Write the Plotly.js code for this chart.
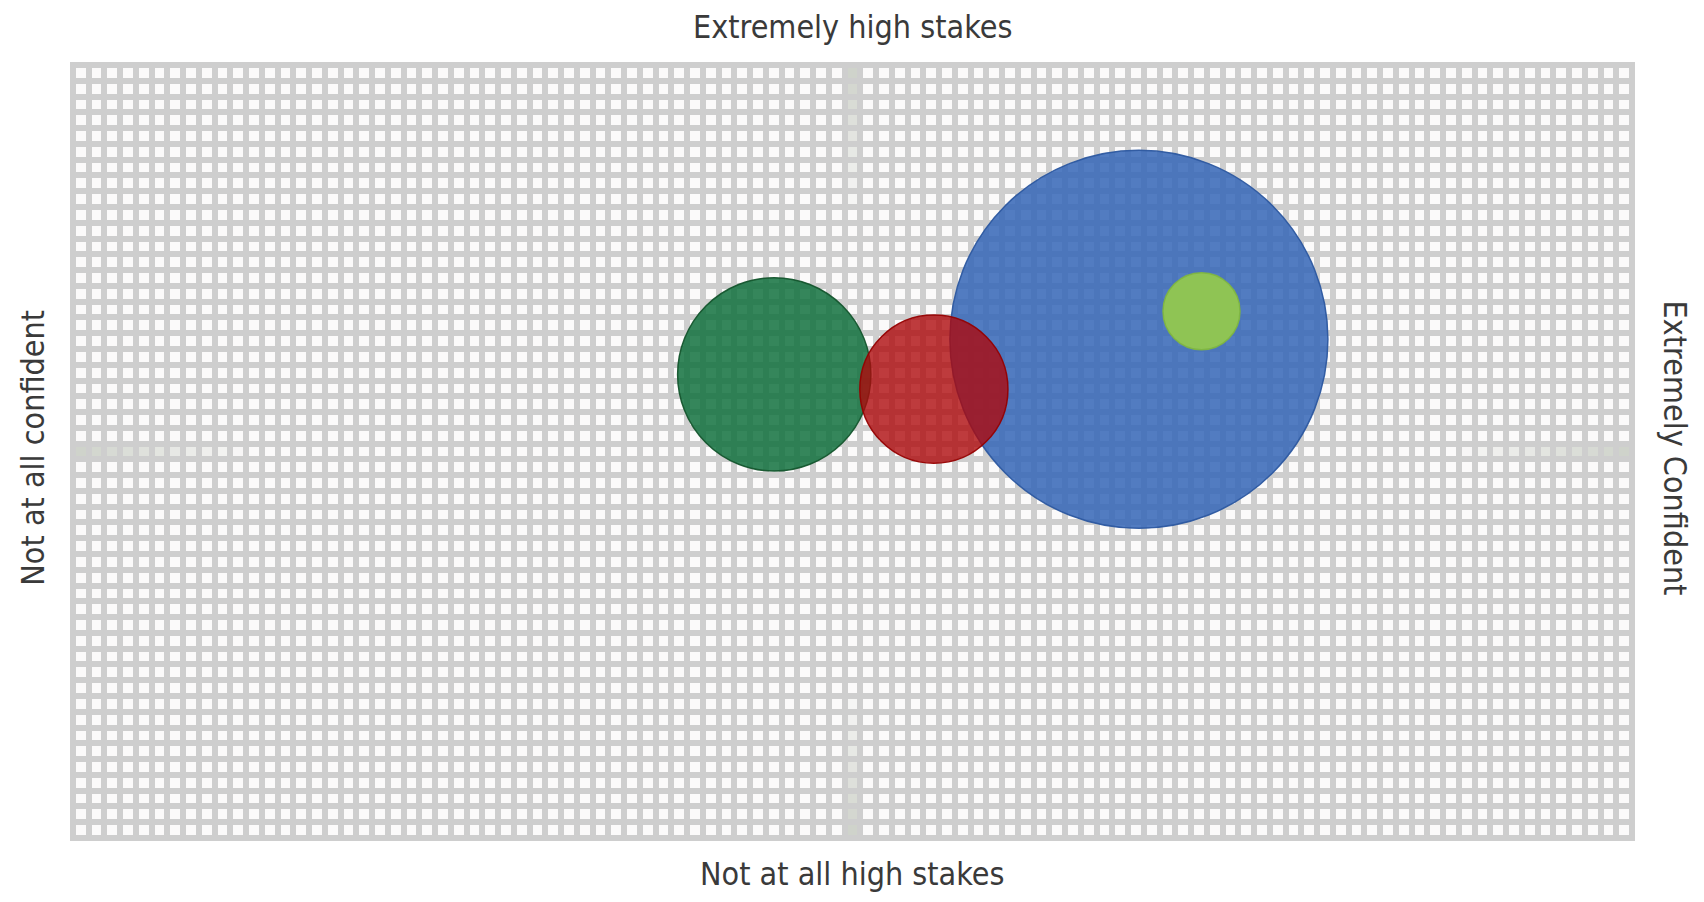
<!DOCTYPE html>
<html>
<head>
<meta charset="utf-8">
<script src="https://cdn.plot.ly/plotly-3.0.1.min.js"></script>
<style>
  html, body { margin: 0; padding: 0; background: #ffffff; }
  #chart { width: 1704px; height: 902px; }
</style>
</head>
<body>
<div id="chart"></div>
<script>
// ---- data ----
const groups     = ['Blue', 'Dark green', 'Red', 'Light green'];
const confidence = [68.3, 45.0, 55.2, 72.3];   // x: 0 = not at all confident, 100 = extremely confident
const stakes     = [64.4, 59.9, 58.0, 68.0];   // y: 0 = not at all high stakes, 100 = extremely high stakes
const counts     = [24.1, 6.3, 3.7, 1.0];      // bubble size (area)

const topLabel    = 'Extremely high stakes';
const bottomLabel = 'Not at all high stakes';
const leftLabel   = 'Not at all confident';
const rightLabel  = 'Extremely Confident';

// ---- styles ----
const fillColors = ['rgba(58,106,184,0.88)', 'rgba(20,114,64,0.86)', 'rgba(174,8,10,0.79)', 'rgba(146,200,78,0.95)'];
const lineColors = ['rgba(45,88,160,0.95)', 'rgba(20,85,45,0.95)', 'rgba(150,0,0,0.95)', 'rgba(128,182,64,0.95)'];

// ---- decorative background grid (squares) ----
const nCols = 99, nRows = 49;
const midCol = 49, midRow = 24;
const z = [];
for (let r = 0; r < nRows; r++) {
  const row = [];
  for (let c = 0; c < nCols; c++) {
    let v = 0;
    if (c === midCol) {
      const d = Math.min(r, nRows - 1 - r);
      v = Math.max(v, 1 - d / 9);
    }
    if (r === midRow) {
      const d = Math.min(c, nCols - 1 - c);
      v = Math.max(v, 1 - d / 11);
    }
    row.push(v);
  }
  z.push(row);
}

const font = 'Liberation Sans Narrow, DejaVu Sans Condensed, Roboto, sans-serif';

const traces = [
  {
    type: 'heatmap',
    z: z,
    x0: 0, dx: 1, y0: 0, dy: 1,
    xgap: 6, ygap: 6,
    zmin: 0, zmax: 1,
    colorscale: [[0, '#fbfafa'], [1, '#cfd3cb']],
    showscale: false,
    hoverinfo: 'skip',
    xaxis: 'x', yaxis: 'y'
  },
  {
    type: 'scatter',
    mode: 'markers',
    x: confidence,
    y: stakes,
    text: groups,
    xaxis: 'x2', yaxis: 'y2',
    marker: {
      size: counts,
      sizemode: 'area',
      sizeref: 1 / (2 * 38.5 * 38.5),
      opacity: 1,
      color: fillColors,
      line: { color: lineColors, width: 1.5 }
    },
    hovertemplate: '%{text}<br>x=%{x}<br>y=%{y}<extra></extra>'
  }
];

const e = 3 / 15.75;
const layout = {
  width: 1704, height: 902,
  margin: { l: 70, r: 69, t: 62, b: 61 },
  paper_bgcolor: '#ffffff',
  plot_bgcolor: '#cecece',
  showlegend: false,
  xaxis: { range: [-0.5 - e, nCols - 0.5 + e], showgrid: false, zeroline: false, showticklabels: false, ticks: '', fixedrange: true },
  yaxis: { range: [-0.5 - e, nRows - 0.5 + e], showgrid: false, zeroline: false, showticklabels: false, ticks: '', fixedrange: true },
  xaxis2: { overlaying: 'x', range: [0, 100], visible: false, fixedrange: true },
  yaxis2: { overlaying: 'y', range: [0, 100], visible: false, fixedrange: true },
  annotations: [
    { text: topLabel, xref: 'paper', yref: 'paper', x: 0.5, y: 1.045, xanchor: 'center', yanchor: 'middle', showarrow: false, font: { family: font, size: 32, color: '#3a3a3a' } },
    { text: bottomLabel, xref: 'paper', yref: 'paper', x: 0.5, y: -0.042, xanchor: 'center', yanchor: 'middle', showarrow: false, font: { family: font, size: 32, color: '#3a3a3a' } },
    { text: leftLabel, xref: 'paper', yref: 'paper', x: -0.0236, y: 0.505, xanchor: 'center', yanchor: 'middle', textangle: -90, showarrow: false, font: { family: font, size: 32, color: '#3a3a3a' } },
    { text: rightLabel, xref: 'paper', yref: 'paper', x: 1.0256, y: 0.505, xanchor: 'center', yanchor: 'middle', textangle: 90, showarrow: false, font: { family: font, size: 32, color: '#3a3a3a' } }
  ]
};

Plotly.newPlot('chart', traces, layout, { displayModeBar: false, staticPlot: true });
</script>
</body>
</html>
